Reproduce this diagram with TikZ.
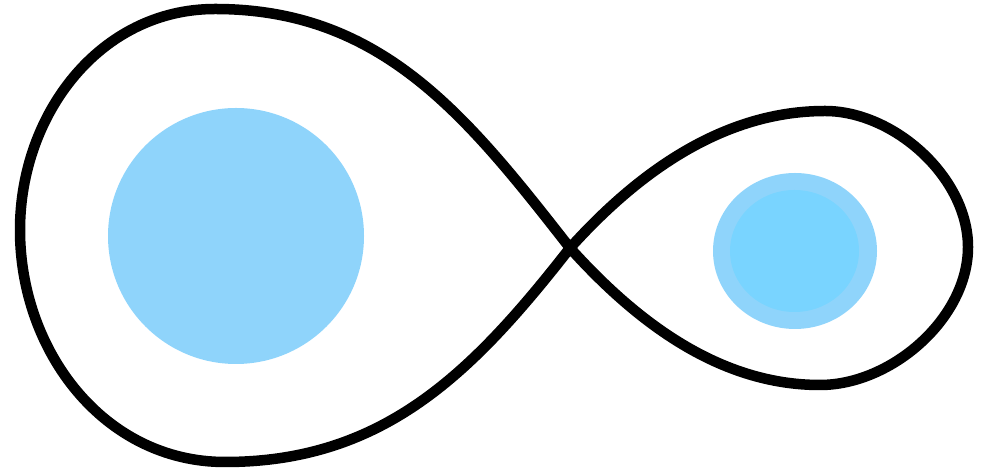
\documentclass[tikz,border=0pt]{standalone}
\usepackage{xcolor}
\definecolor{lobeblue}{HTML}{8FD4FB}
\definecolor{coreblue}{HTML}{79D4FF}

\begin{document}
\begin{tikzpicture}[x=1pt, y=1pt,
   blob/.style={fill=lobeblue, draw=none},
   core/.style={fill=coreblue, draw=none},
   loop/.style={draw=black, line width=10.5pt, line join=round}]
\useasboundingbox (0,0) rectangle (988,470);
% discs
\fill[blob] (236,234) circle (128);
\fill[blob] (795,219) ellipse [x radius=82, y radius=78];
\fill[core] (794.5,219) ellipse [x radius=64.5, y radius=61];
% figure eight
\coordinate (x) at (570,222);
\coordinate (ltop) at (215,461);
\coordinate (lleft) at (20,240);
\coordinate (lbot) at (225,8);
\coordinate (rbot) at (820,85);
\coordinate (rright) at (968,223);
\coordinate (rtop) at (825,359);
\draw[loop] (x) to[out=128,in=0] (ltop) to[out=180,in=90] (lleft)
  to[out=-90,in=180] (lbot) to[out=0,in=-128] (x)
  to[out=-48,in=180,looseness=0.9] (rbot) to[out=0,in=-90,looseness=0.9] (rright)
  to[out=90,in=0,looseness=0.9] (rtop) to[out=180,in=48,looseness=0.9] (x) -- cycle;
\end{tikzpicture}
\end{document}
